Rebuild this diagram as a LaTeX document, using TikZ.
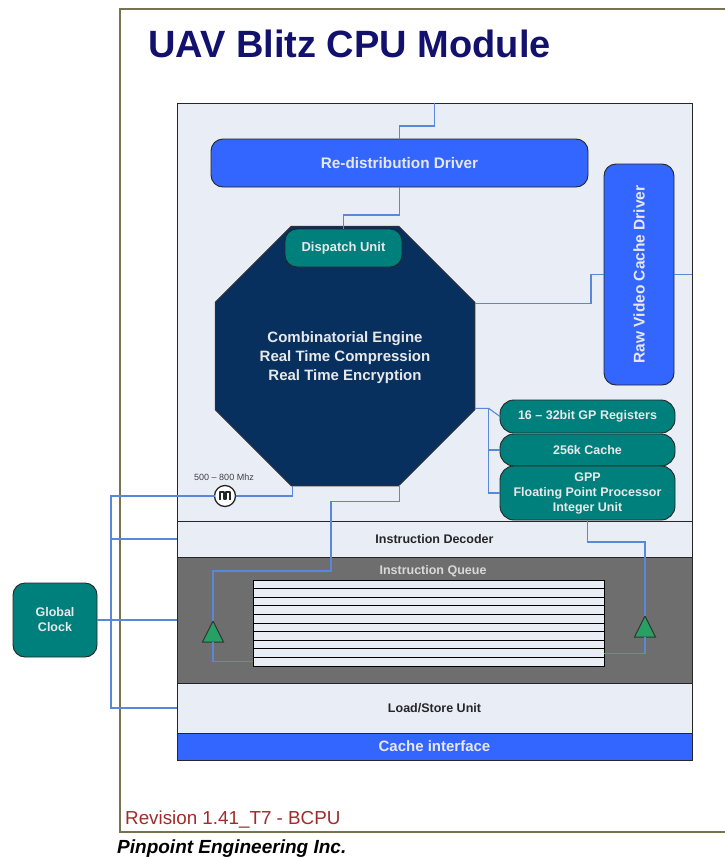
\documentclass[tikz,border=0pt]{standalone}
\usepackage{fontspec}
\setmainfont{Liberation Sans}
\usetikzlibrary{shapes.geometric,calc}

\definecolor{panelfill}{HTML}{E9EDF6}
\definecolor{drvblue}{HTML}{3366FF}
\definecolor{tealbox}{HTML}{00807C}
\definecolor{octnavy}{HTML}{07305F}
\definecolor{wireblue}{HTML}{5A88D8}
\definecolor{framecol}{HTML}{77724F}
\definecolor{titlenavy}{HTML}{12126E}
\definecolor{revred}{HTML}{A12B2B}
\definecolor{queuegray}{HTML}{6E6E6E}
\definecolor{trigreen}{HTML}{27A063}
\definecolor{lighttext}{HTML}{E8E8E8}

\tikzset{
  band/.style={draw=black!85, line width=0.9pt, fill=panelfill, minimum width=515pt,
    inner sep=0pt, outer sep=0pt, text=black!85,
    font=\bfseries\fontsize{12.5}{15}\selectfont},
  bluebox/.style={draw=black!85, line width=0.9pt, fill=drvblue, rounded corners=12pt,
    inner sep=0pt, outer sep=0pt, text=lighttext,
    font=\bfseries\fontsize{15.3}{18}\selectfont},
  tealnode/.style={draw=black!85, line width=0.9pt, fill=tealbox, rounded corners=12pt,
    inner sep=0pt, outer sep=0pt, text=lighttext, align=center,
    font=\bfseries\fontsize{12.5}{15}\selectfont},
  stripe/.style={draw=black, line width=1pt, fill=panelfill, minimum width=351pt,
    minimum height=8.6pt, inner sep=0pt, outer sep=0pt},
  wire/.style={draw=wireblue, line width=1.1pt},
  tri/.style={isosceles triangle, isosceles triangle stretches, shape border rotate=90,
    minimum width=21pt, minimum height=21pt, inner sep=0pt, outer sep=0pt,
    fill=trigreen, draw=black!80, line width=1pt},
}

\begin{document}
\begin{tikzpicture}[x=1pt,y=-1pt]
\useasboundingbox (0,0) rectangle (725,857);
\fill[white] (0,0) rectangle (725,857);

% sheet frame and headings
\draw[draw=framecol, line width=1.3pt] (120,9) rectangle (760,832);
\node[anchor=base west, inner sep=0pt, text=titlenavy,
      font=\bfseries\fontsize{38}{42}\selectfont] (title) at (148,57) {UAV Blitz CPU Module};
\node[anchor=base west, inner sep=0pt, text=revred,
      font=\fontsize{18.8}{22}\selectfont] (rev) at (125,824) {Revision 1.41\_T7 - BCPU};
\node[anchor=base west, inner sep=0pt,
      font=\bfseries\itshape\fontsize{19}{22}\selectfont] (corp) at (117,853) {Pinpoint Engineering Inc.};

% module bands
\node[band, minimum height=418pt] (core) at (434.5,312) {};
\node[band, minimum height=36pt] (dec) at (434.5,539) {Instruction Decoder};
\node[band, minimum height=126pt, fill=queuegray] (queue) at (434.5,620) {};
\node[band, minimum height=50pt] (ls) at (434.5,708) {Load/Store Unit};
\node[band, minimum height=27pt, fill=drvblue, text=lighttext,
      font=\bfseries\fontsize{15}{18}\selectfont] (ci) at (434.5,746.5) {Cache interface};

% instruction queue slots
\node[text=black!15, font=\bfseries\fontsize{12.5}{15}\selectfont] (qlabel) at (433,571) {Instruction Queue};
\foreach \i in {1,...,10}
  \node[stripe] (s\i) at (428.5,{575.7+8.6*\i}) {};

% drivers
\node[bluebox, minimum width=377pt, minimum height=48pt] (redis) at (399.5,163) {Re-distribution Driver};
\node[bluebox, minimum width=70pt, minimum height=221pt] (raw) at (639,274.5) {};
\node[rotate=90, text=lighttext, font=\bfseries\fontsize{15.5}{18}\selectfont] (rawlbl) at (raw.center) {Raw Video Cache Driver};

% combinatorial engine
\node[regular polygon, regular polygon sides=8, minimum size=281pt, fill=octnavy,
      draw=black!80, line width=0.9pt, inner sep=0pt, outer sep=0pt] (oct) at (345,356) {};
\node[align=center, text=lighttext, font=\bfseries\fontsize{15}{19}\selectfont] (octlbl) at (345,357.5)
  {Combinatorial Engine\\Real Time Compression\\Real Time Encryption};
\node[tealnode, minimum width=117pt, minimum height=38pt,
      font=\bfseries\fontsize{13}{15}\selectfont] (disp) at (343.5,248) {Dispatch Unit};

% general purpose processor
\node[tealnode, minimum width=175pt, minimum height=33pt, rounded corners=14pt] (reg) at (587.5,416.5) {16 -- 32bit GP Registers};
\node[tealnode, minimum width=175pt, minimum height=32pt, rounded corners=14pt] (cache) at (587.5,450) {256k Cache};
\node[tealnode, minimum width=175pt, minimum height=54pt, rounded corners=14pt] (gpp) at (587.5,493)
  {GPP\\Floating Point Processor\\Integer Unit};

% clocks
\node[tealnode, minimum width=84pt, minimum height=74pt] (gclk) at (55,620) {Global\\Clock};
\node[circle, draw=black!85, fill=white, line width=1.3pt, minimum size=21pt,
      inner sep=0pt, outer sep=0pt] (clk) at (225,496) {};
\draw[line width=1.2pt, black!85, line join=round]
  ($(clk)+(-5,4)$) -- ++(0,-8) -- ++(4,0) -- ++(0,7) -- ++(2,0) -- ++(0,-7) -- ++(4,0) -- ++(0,8);
\node[text=black!75, font=\fontsize{9}{11}\selectfont] (clklbl) at (224,477) {500 -- 800 Mhz};

% queue pointers
\node[tri, anchor=south] (trL) at (213,642) {};
\node[tri, anchor=south] (trR) at (645,637) {};

% signal routing
\draw[wire] (core.north) -- ++(0,23) -| (redis.north);
\draw[wire] (redis.south) -- ++(0,28) -| (disp.north);
\draw[wire] (oct.22.5) -| ($(raw.west)+(-13,0)$) -- (raw.west);
\draw[wire] (raw.east) -- (raw.east -| core.east);

\coordinate (bus) at ($(oct.-22.5)+(14,0)$);
\draw[wire] (oct.-22.5) -- (bus) -- (reg.west);
\draw[wire] (bus) |- (cache.west);
\draw[wire] (bus) |- (gpp.west);

\draw[wire] (gpp.south) -- ++(0,22) -| (trR.north);
\draw[wire] (trR.south) |- (s9.east);

\coordinate (qv) at (331,571);
\draw[wire] (oct.-67.5) -- ++(0,17) -| (qv) -| (trL.north);
\draw[wire] (trL.south) |- (s10.west);

\draw[wire] (clk.east) -| (oct.-112.5);

\coordinate (clkbus) at ($(gclk.east)+(14,0)$);
\draw[wire] (gclk.east) -- (queue.west);
\draw[wire] (clkbus) |- (clk.west);
\draw[wire] (clkbus) |- (dec.west);
\draw[wire] (clkbus) |- (ls.west);
\end{tikzpicture}
\end{document}
